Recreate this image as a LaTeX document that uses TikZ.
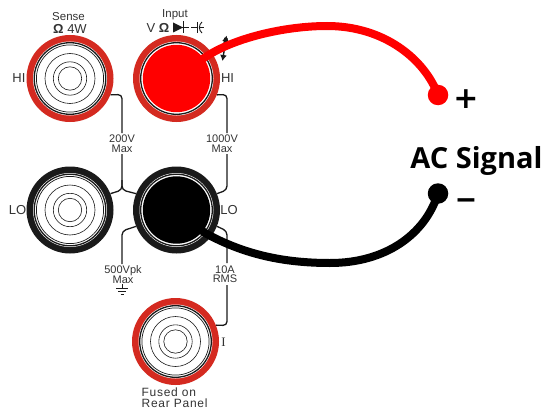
\documentclass[tikz,border=0pt]{standalone}
\usepackage{fontspec}
\setmainfont{Liberation Sans}
\newfontfamily\headfont{Open Sans}
\newfontfamily\signfont{DejaVu Sans}
\newfontfamily\serifface{Liberation Serif}
\newfontfamily\spacedfont[LetterSpace=6]{Liberation Sans}
\usetikzlibrary{arrows.meta}
\definecolor{jackred}{HTML}{D42A20}
\definecolor{ink}{HTML}{1A1A1A}
\definecolor{txt}{HTML}{333333}
\definecolor{wirered}{HTML}{FF0000}
\tikzset{
  jackbase/.style={circle,draw=none,minimum size=87pt,inner sep=0pt},
  lab/.style={text=txt,font=\fontsize{11.5}{11.5}\selectfont,inner sep=0pt,align=center},
  linklab/.style={text=txt,font=\fontsize{11}{9.5}\selectfont,inner sep=0pt,align=center},
  link/.style={draw=ink,line width=1.3pt,rounded corners=4pt},
  wire/.style={line width=8pt},
  sym/.style={ink,line width=0.9pt}
}
\newcommand{\jackrings}[2]{%
  \fill[white] (#1) circle (37pt);
  \draw[ink,line width=1.3pt] (#1) circle (35.8pt);
  \ifx#2n
    \draw[ink,line width=0.7pt] (#1) circle (33.6pt);
    \draw[ink,line width=0.6pt] (#1) circle (25pt);
    \draw[ink,line width=0.6pt] (#1) circle (16.7pt);
    \draw[ink,line width=0.6pt] (#1) circle (11.7pt);
  \fi
}
\begin{document}
\begin{tikzpicture}[x=1pt,y=-1pt]
\useasboundingbox (0,0) rectangle (545,409);
% jacks
\node[jackbase,fill=jackred] (senseHi) at (70,78.5) {};
\node[jackbase,fill=jackred] (inputHi) at (176.5,78.5) {};
\node[jackbase,fill=ink] (senseLo) at (70,210) {};
\node[jackbase,fill=ink] (inputLo) at (176.5,210) {};
\node[jackbase,fill=jackred] (currIn) at (175.5,341.5) {};
% link labels
\node[linklab] (l200) at (122,143.7) {200V\\Max};
\node[linklab] (l1000) at (222,143.7) {1000V\\Max};
\node[linklab] (l500) at (123,274.5) {500Vpk\\Max};
\node[linklab] (l10) at (225,274) {10A\\RMS};
% links
\draw[link] (senseHi.-22) -- (122,94.5) -- (122,133);
\draw[link] (122,154) -- (122,190) -- (senseLo.22);
\draw[link] (122,180) -- (122,190) -- (inputLo.158);
\draw[link] (inputHi.-22) -- (227,94.5) -- (227,133);
\draw[link] (227,154) -- (227,190) -- (inputLo.22);
\draw[link] (inputLo.202) -- (122,231) -- (122,264);
\draw[link] (inputLo.-22) -- (227,231) -- (227,263);
\draw[link] (227,285) -- (227,325.5) -- (currIn.22);
% rings
\jackrings{senseHi}{n}
\jackrings{inputHi}{f}
\jackrings{senseLo}{n}
\jackrings{inputLo}{f}
\jackrings{currIn}{n}
\fill[wirered] (inputHi) circle (33.7pt);
\fill[black] (inputLo) circle (33.7pt);
% ground symbol
\draw[sym] (122,284) -- (122,288.5);
\draw[sym] (116,288.5) -- (128,288.5);
\draw[sym] (118,291.5) -- (126,291.5);
\draw[sym] (120.5,294.5) -- (123.5,294.5);
% labels
\node[lab] (tSense) at (68.5,16.5) {Sense};
\node[lab,font=\fontsize{13}{13}\selectfont] (tOhm4) at (70,28.5) {\textbf{Ω} 4W};
\node[lab] (tInput) at (175,14.5) {Input};
\node[lab,font=\fontsize{13}{13}\selectfont] (tVO) at (158,27.5) {V \textbf{Ω}};
% diode and capacitor
\fill[ink] (173,22.5) -- (173,32.5) -- (183,27.5) -- cycle;
\draw[sym] (183.5,21.5) -- (183.5,33);
\draw[sym] (178,27.5) -- (189,27.5);
\draw[sym] (191,27.5) -- (197,27.5);
\draw[sym] (197,22) -- (197,33);
\draw[sym] (202,22) .. controls (198.5,25) and (198.5,30) .. (202,33);
\draw[sym] (199.5,27.5) -- (204,27.5);
\node[lab,font=\fontsize{13}{13}\selectfont] (tHi1) at (19,78.5) {HI};
\node[lab,font=\fontsize{13}{13}\selectfont] (tHi2) at (227.5,78.5) {HI};
\node[lab,font=\fontsize{13}{13}\selectfont] (tLo1) at (17.5,210) {LO};
\node[lab,font=\fontsize{13}{13}\selectfont] (tLo2) at (229,210) {LO};
\node[lab,font=\serifface\fontsize{13}{13}\selectfont] (tI) at (223.5,342) {I};
\node[lab,align=left,font=\spacedfont\fontsize{12}{11.5}\selectfont,anchor=north west] (tFuse) at (141.5,387.5) {Fused on\\Rear Panel};
% movement arrow
\draw[ink,line width=1.4pt,{Latex[length=6pt,width=7pt]}-{Latex[length=6pt,width=7pt]}] (226.5,35.5) -- (222.5,61);
\draw[ink,line width=3.5pt] (226,38) -- (224.5,47);
% terminals
\node[circle,fill=wirered,minimum size=20.5pt,inner sep=0pt] (plus) at (438,95) {};
\node[circle,fill=black,minimum size=20.5pt,inner sep=0pt] (minus) at (438,193.5) {};
% wires
\draw[wire,wirered] (inputHi.center) -- (204,58) .. controls (233,38) and (285,26) .. (327,26) .. controls (385,26) and (425,60) .. (plus.center);
\draw[wire,black] (inputLo.center) -- (205,233) .. controls (245,255) and (285,263) .. (330,263) .. controls (385,263) and (425,235) .. (minus.center);
% signal labels
\node[inner sep=0pt,text=black,font=\headfont\bfseries\fontsize{29}{29}\selectfont] (sig) at (476.5,160.5) {AC Signal};
\node[inner sep=0pt,text=black,font=\signfont\bfseries\fontsize{30}{30}\selectfont] (tPlus) at (466,99.5) {+};
\node[inner sep=0pt,text=black,font=\bfseries\fontsize{34}{34}\selectfont] (tMinus) at (466,204) {–};
\end{tikzpicture}
\end{document}
